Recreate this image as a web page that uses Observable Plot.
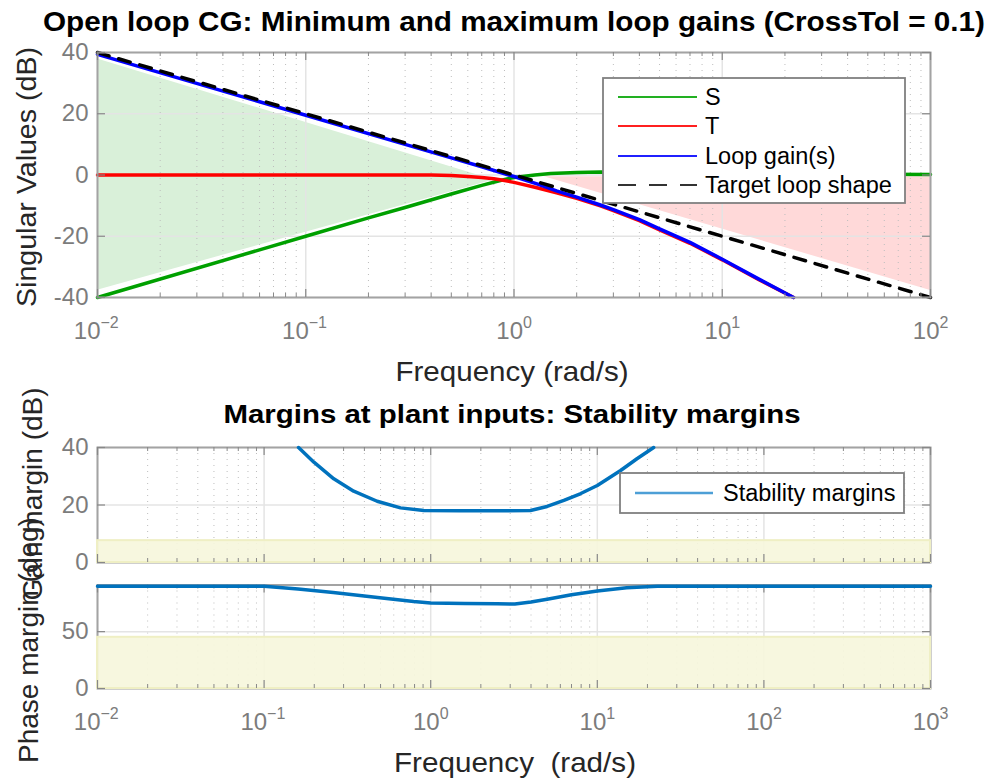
<!DOCTYPE html>
<html><head><meta charset="utf-8">
<script src="https://cdn.jsdelivr.net/npm/d3@7"></script>
<script src="https://cdn.jsdelivr.net/npm/@observablehq/plot@0.6"></script>
<style>
body{margin:0;background:#fff;}
#wrap{position:relative;width:992px;height:780px;overflow:hidden;font-family:"Liberation Sans",Arial,Helvetica,sans-serif;}
.panel{position:absolute;left:0;}
#overlay{position:absolute;left:0;top:0;pointer-events:none;}
</style></head><body><div id="wrap"></div>
<script>
// ---------- Top panel: singular values ----------
const targetFreq = [0.01, 100];
const targetDb = [40, -40];
const loopFreq = [0.01, 0.1, 0.3, 0.5, 0.7, 1.0, 1.3, 1.6, 2.0, 2.6, 3.0, 4.0, 5.0, 7.0, 10, 15, 22];
const loopDb = [39.4, 19.5, 10.0, 5.6, 2.7, -0.5, -3.0, -5.2, -7.2, -9.8, -11.3, -14.6, -17.6, -22.0, -27.5, -34.0, -40];
const tFreq = [0.01, 0.4, 0.5, 0.6, 0.7, 0.8, 0.9, 1.0, 1.26, 1.6, 2.0, 2.6, 3.0, 4.0, 5.0, 7.0, 10, 15, 22];
const tDb = [0, 0, -0.2, -0.5, -0.8, -1.2, -1.8, -2.4, -4.0, -5.8, -7.6, -10.1, -11.6, -14.9, -17.9, -22.3, -27.7, -34.2, -40];
const sFreq = [0.01, 0.1, 0.2, 0.3, 0.5, 0.7, 0.86, 1.0, 1.26, 1.5, 2.0, 2.6, 4.0, 10, 30, 100];
const sDb = [-40, -20, -14.0, -10.6, -6.2, -3.4, -1.8, -0.8, 0, 0.5, 0.8, 1.0, 0.8, 0.5, 0.3, 0.2];
const greenFillFreq = [0.01, 0.8];
const greenFillLow = [-37.6, -1.6];
const greenFillHigh = [37.9, -1.6];
const redFillFreq = [1.4, 100];
const redFillLow = [-0.6, -37.7];
const redFillHigh = [-0.6, -0.6];
const topYTicks = [-40, -20, 0, 20, 40];
const topDecades = [0.01, 0.1, 1, 10, 100];
const topExps = ["\u22122", "\u22121", "0", "1", "2"];

// ---------- Middle panel: gain margin ----------
const gmFreq = [0.161, 0.199, 0.262, 0.345, 0.477, 0.659, 0.909, 1.5, 2.5, 3.97, 5.0, 6.3, 7.9, 10, 13.8, 17.3, 21.8];
const gmDb = [40, 34.9, 29.1, 24.8, 21.3, 19.0, 18.1, 18.0, 18.0, 18.1, 19.5, 21.6, 23.9, 26.8, 32.0, 36.1, 40];
const gainBandX = [0.01, 1000];
const gainBandY = [0, 7.6];
const gainYTicks = [0, 20, 40];

// ---------- Bottom panel: phase margin ----------
const pmFreq = [0.01, 0.1, 0.16, 0.26, 0.48, 0.79, 1.0, 1.6, 2.5, 3.2, 4.0, 5.0, 7.0, 10, 15, 23, 1000];
const pmDeg = [90, 89.8, 87.5, 84.5, 80, 76.5, 75.2, 74.8, 74.6, 74.2, 76.0, 78.4, 82.5, 85.7, 88.5, 90, 90];
const phaseBandX = [0.01, 1000];
const phaseBandY = [0, 45];
const phaseYTicks = [0, 50];
const botDecades = [0.01, 0.1, 1, 10, 100, 1000];
const botExps = ["\u22122", "\u22121", "0", "1", "2", "3"];

// ---------- styling ----------
const FONT = '"Liberation Sans", Arial, Helvetica, sans-serif';
const tickColor = "#7c7c7c";
const frameColor = "#a3a3a3";
const gridColor = "#e4e4e4";
const minorColor = "#bdbdbd";
const W = 992, ML = 97, MR = 62;

function minorsFor(decs) {
  const out = [];
  for (let i = 0; i < decs.length - 1; i++) for (let k = 2; k <= 9; k++) out.push(decs[i] * k);
  return out;
}
const pts = (xs, ys) => xs.map((f, i) => ({f, v: ys[i]}));

function gridMarks(decades, yTicks) {
  const minors = minorsFor(decades);
  return [
    Plot.ruleX(minors, {x: d => d, stroke: minorColor, strokeWidth: 1, strokeDasharray: "1,5"}),
    Plot.ruleX(decades, {x: d => d, stroke: gridColor, strokeWidth: 1.5}),
    Plot.ruleY(yTicks, {y: d => d, stroke: gridColor, strokeWidth: 1.5})
  ];
}
function tickMarks(decades, yTicks, frameH) {
  const frameW = W - ML - MR;
  const minors = minorsFor(decades);
  return [
    Plot.ruleX(decades, {x: d => d, insetTop: frameH - 8, stroke: "#888", strokeWidth: 1.2}),
    Plot.ruleX(decades, {x: d => d, insetBottom: frameH - 8, stroke: "#888", strokeWidth: 1.2}),
    Plot.ruleX(minors, {x: d => d, insetTop: frameH - 4, stroke: "#888", strokeWidth: 1}),
    Plot.ruleX(minors, {x: d => d, insetBottom: frameH - 4, stroke: "#888", strokeWidth: 1}),
    Plot.ruleY(yTicks, {y: d => d, insetRight: frameW - 8, stroke: "#888", strokeWidth: 1.2}),
    Plot.ruleY(yTicks, {y: d => d, insetLeft: frameW - 8, stroke: "#888", strokeWidth: 1.2})
  ];
}
function yLabels(yTicks) {
  return Plot.text(yTicks, {y: d => d, text: d => String(d), frameAnchor: "left", dx: -9,
    textAnchor: "end", lineAnchor: "middle", fontSize: 24, fill: tickColor});
}
function xLabels(decades, exps) {
  return decades.flatMap((v, i) => {
    const off = exps[i].startsWith("\u2212") ? 3 : 9;
    return [
      Plot.text([v], {x: d => d, text: () => "10", frameAnchor: "bottom", lineAnchor: "bottom",
        dy: 41, dx: off, textAnchor: "end", fontSize: 24, fill: tickColor}),
      Plot.text([v], {x: d => d, text: () => exps[i], frameAnchor: "bottom", lineAnchor: "bottom",
        dy: 30, dx: off, textAnchor: "start", fontSize: 16, fill: tickColor})
    ];
  });
}

const wrap = document.getElementById("wrap");
function place(svg, top) {
  svg.classList.add("panel");
  svg.style.top = top + "px";
  wrap.appendChild(svg);
}

// Top panel
{
  const mt = 52, mb = 48, h = 345, fh = h - mt - mb;
  const svg = Plot.plot({
    width: W, height: h, marginLeft: ML, marginRight: MR, marginTop: mt, marginBottom: mb,
    style: {fontFamily: FONT, background: "transparent", overflow: "visible"},
    x: {type: "log", domain: [0.01, 100], axis: null},
    y: {domain: [-40, 40], axis: null},
    marks: [
      Plot.areaY(greenFillFreq.map((f, i) => ({f, lo: greenFillLow[i], hi: greenFillHigh[i]})),
        {x: "f", y1: "lo", y2: "hi", fill: "#d9f0d9"}),
      Plot.areaY(redFillFreq.map((f, i) => ({f, lo: redFillLow[i], hi: redFillHigh[i]})),
        {x: "f", y1: "lo", y2: "hi", fill: "#ffd9d9"}),
      ...gridMarks(topDecades, topYTicks),
      Plot.line(pts(sFreq, sDb), {x: "f", y: "v", stroke: "#00a000", strokeWidth: 3.5}),
      Plot.line(pts(tFreq, tDb), {x: "f", y: "v", stroke: "#ff0000", strokeWidth: 3.5}),
      Plot.line(pts(loopFreq, loopDb), {x: "f", y: "v", stroke: "#0000ff", strokeWidth: 3.5}),
      Plot.line(pts(targetFreq, targetDb), {x: "f", y: "v", stroke: "#000", strokeWidth: 3.5, strokeDasharray: "12,10"}),
      Plot.frame({stroke: frameColor, strokeWidth: 2}),
      ...tickMarks(topDecades, topYTicks, fh),
      yLabels(topYTicks),
      ...xLabels(topDecades, topExps)
    ]
  });
  place(svg, 0);
}

// Middle panel
{
  const mt = 47, mb = 18, h = 180, fh = h - mt - mb;
  const svg = Plot.plot({
    width: W, height: h, marginLeft: ML, marginRight: MR, marginTop: mt, marginBottom: mb,
    style: {fontFamily: FONT, background: "transparent", overflow: "visible"},
    x: {type: "log", domain: [0.01, 1000], axis: null},
    y: {domain: [0, 40], axis: null},
    marks: [
      ...gridMarks(botDecades, gainYTicks),
      Plot.frame({stroke: frameColor, strokeWidth: 2}),
      Plot.rect([0], {x1: () => gainBandX[0], x2: () => gainBandX[1], y1: () => gainBandY[0], y2: () => gainBandY[1],
        fill: "#f6f6dc", fillOpacity: 0.9, stroke: "#efefc4", strokeWidth: 2}),
      ...tickMarks(botDecades, gainYTicks, fh),
      Plot.line(pts(gmFreq, gmDb), {x: "f", y: "v", stroke: "#0072bd", strokeWidth: 3.5}),
      yLabels(gainYTicks)
    ]
  });
  place(svg, 400);
}

// Bottom panel
{
  const mt = 14.5, mb = 52, h = 170, fh = h - mt - mb;
  const svg = Plot.plot({
    width: W, height: h, marginLeft: ML, marginRight: MR, marginTop: mt, marginBottom: mb,
    style: {fontFamily: FONT, background: "transparent", overflow: "visible"},
    x: {type: "log", domain: [0.01, 1000], axis: null},
    y: {domain: [0, 91], axis: null},
    marks: [
      ...gridMarks(botDecades, phaseYTicks),
      Plot.frame({stroke: frameColor, strokeWidth: 2}),
      Plot.rect([0], {x1: () => phaseBandX[0], x2: () => phaseBandX[1], y1: () => phaseBandY[0], y2: () => phaseBandY[1],
        fill: "#f6f6dc", fillOpacity: 0.9, stroke: "#efefc4", strokeWidth: 2}),
      ...tickMarks(botDecades, phaseYTicks, fh),
      Plot.line(pts(pmFreq, pmDeg), {x: "f", y: "v", stroke: "#0072bd", strokeWidth: 3.5}),
      yLabels(phaseYTicks),
      ...xLabels(botDecades, botExps)
    ]
  });
  place(svg, 570);
}

// Overlay: titles, axis labels, legends
const ns = "http://www.w3.org/2000/svg";
const ov = document.createElementNS(ns, "svg");
ov.setAttribute("id", "overlay");
ov.setAttribute("width", W); ov.setAttribute("height", 780);
ov.style.fontFamily = FONT;
ov.innerHTML = `
  <text x="514" y="31" text-anchor="middle" font-weight="bold" font-size="28" fill="#000" textLength="942" lengthAdjust="spacingAndGlyphs">Open loop CG: Minimum and maximum loop gains (CrossTol = 0.1)</text>
  <text transform="translate(36,177) rotate(-90)" text-anchor="middle" font-size="28" fill="#262626" textLength="260" lengthAdjust="spacingAndGlyphs">Singular Values (dB)</text>
  <text x="512" y="381" text-anchor="middle" font-size="28" fill="#262626" textLength="233" lengthAdjust="spacingAndGlyphs">Frequency (rad/s)</text>
  <text x="512" y="423" text-anchor="middle" font-weight="bold" font-size="26" fill="#000" textLength="577" lengthAdjust="spacingAndGlyphs">Margins at plant inputs: Stability margins</text>
  <text transform="translate(42,494) rotate(-90)" text-anchor="middle" font-size="28" fill="#262626">Gain margin (dB)</text>
  <text transform="translate(38,640) rotate(-90)" text-anchor="middle" font-size="28" fill="#262626">Phase margin (deg)</text>
  <text x="515" y="772" text-anchor="middle" font-size="28" fill="#262626" style="white-space:pre" textLength="242" lengthAdjust="spacingAndGlyphs">Frequency  (rad/s)</text>

  <rect x="603" y="78" width="302" height="125" fill="#fff" stroke="#808080" stroke-width="1.8"/>
  <line x1="618" x2="697" y1="97" y2="97" stroke="#22b022" stroke-width="2"/>
  <text x="705" y="97" dy="0.35em" font-size="23.5" fill="#000">S</text>
  <line x1="618" x2="697" y1="126" y2="126" stroke="#ff2020" stroke-width="2"/>
  <text x="705" y="126" dy="0.35em" font-size="23.5" fill="#000">T</text>
  <line x1="618" x2="697" y1="156" y2="156" stroke="#2020ff" stroke-width="2"/>
  <text x="705" y="156" dy="0.35em" font-size="23.5" fill="#000">Loop gain(s)</text>
  <line x1="618" x2="697" y1="185" y2="185" stroke="#333" stroke-width="2" stroke-dasharray="18,13"/>
  <text x="705" y="185" dy="0.35em" font-size="23.5" fill="#000">Target loop shape</text>

  <rect x="620" y="473" width="284" height="40" fill="#fff" stroke="#808080" stroke-width="1.8"/>
  <line x1="635" x2="713" y1="493" y2="493" stroke="#4d9fd6" stroke-width="2.5"/>
  <text x="723" y="493" dy="0.35em" font-size="23.5" fill="#000">Stability margins</text>
`;
wrap.appendChild(ov);
</script></body></html>
